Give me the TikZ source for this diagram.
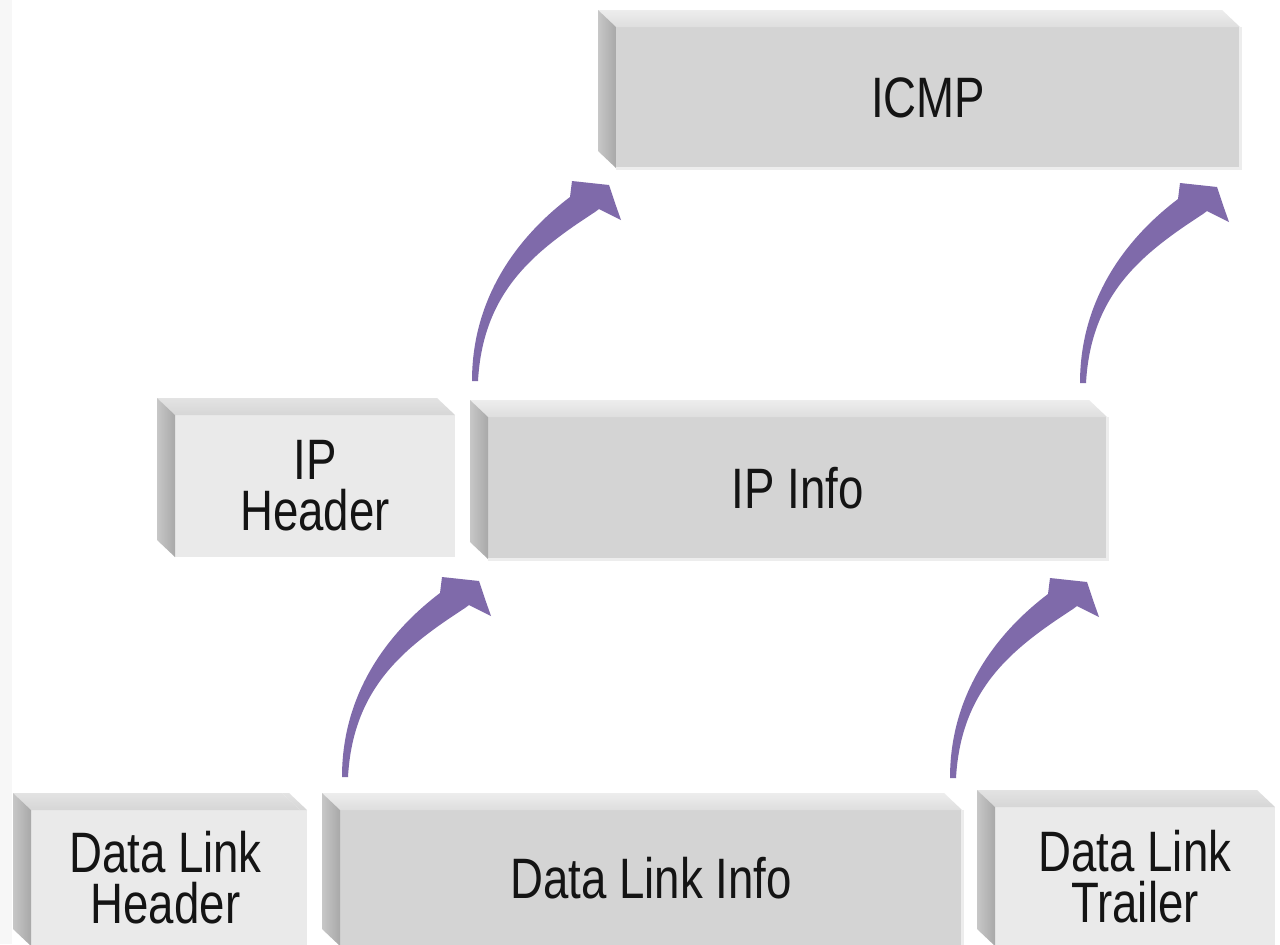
\documentclass[tikz,border=0pt]{standalone}
\usepackage{fontspec}
\setmainfont{Liberation Sans}[FakeStretch=0.8]
\usetikzlibrary{calc}

\definecolor{liftpurple}{RGB}{127,106,170}
\definecolor{frontdark}{HTML}{D4D4D4}
\definecolor{frontlight}{HTML}{EAEAEA}

\tikzset{
  layer text/.style={font=\fontsize{28.5}{25.5}\selectfont, text=black!92,
                     align=center, inner sep=0pt, outer sep=0pt},
  darkfront/.style={fill=frontdark},
  lightfront/.style={fill=frontlight},
  darktop/.style={top color=black!7, bottom color=black!13},
  lighttop/.style={top color=black!11, bottom color=black!16},
  sideface/.style={left color=black!22, right color=black!34},
  darkedge/.style={draw=black!7, line width=1.5pt},
  liftarrow/.pic={
    \fill[liftpurple] (-3,0) .. controls (-3,-90) and (50,-150) .. (95,-184)
      -- (97,-200) -- (134,-196) -- (140,-178) -- (146,-161) -- (124,-172)
      -- (120,-169) .. controls (60,-130) and (8,-90) .. (3,0) -- cycle;
  }
}

% #1 name, #2 back left x, #3 back top y, #4 front right x, #5 front bottom y,
% #6 tone (dark/light), #7 label
\newcommand\layerbox[7]{%
  \node[layer text, #6front,
        minimum width={(#4-#2-18)*0.5pt}, minimum height={(#5-#3-17)*0.5pt}]
        (#1) at ({(#2+18+#4)/2},{(#3+17+#5)/2}) {#7};
  \path[#6top] ($(#1.north west)+(-18,-17)$) -- ($(#1.north east)+(-18,-17)$)
        -- (#1.north east) -- (#1.north west) -- cycle;
  \path[sideface] ($(#1.north west)+(-18,-17)$) -- (#1.north west)
        -- (#1.south west) -- ($(#1.south west)+(-18,-17)$) -- cycle;
}

\begin{document}
\begin{tikzpicture}[x=0.5pt, y=-0.5pt]
  \useasboundingbox (0,0) rectangle (1280,944);
  \clip (0,0) rectangle (1280,944);
  \fill[white] (0,0) rectangle (1280,944);
  \fill[black!3] (0,0) rectangle (12,944);

  % top layer
  \layerbox{icmp}{598}{10}{1240}{168}{dark}{ICMP}
  \draw[darkedge] (icmp.north east) -- (icmp.south east) -- (icmp.south west);

  % middle layer
  \layerbox{iphdr}{157}{398}{455}{557}{light}{IP\\Header}
  \layerbox{ipinfo}{470}{400}{1107}{559}{dark}{IP Info}
  \draw[darkedge] (ipinfo.north east) -- (ipinfo.south east) -- (ipinfo.south west);

  % bottom layer
  \layerbox{dlhdr}{13}{793}{300}{946}{light}{Data Link\\Header}
  \fill[frontlight] (dlhdr.north east) rectangle ($(dlhdr.south east)+(7,0)$);
  \path[lighttop] ($(dlhdr.north east)+(-18,-17)$) -- ($(dlhdr.north east)+(-11,-17)$)
        -- ($(dlhdr.north east)+(7,0)$) -- (dlhdr.north east) -- cycle;
  \layerbox{dlinfo}{322}{793}{962}{946}{dark}{Data Link Info}
  \draw[darkedge] (dlinfo.north east) -- (dlinfo.south east);
  \layerbox{dltrl}{977}{790}{1275}{946}{light}{Data Link\\Trailer}

  % lifting arrows between the layers
  \coordinate (liftA) at (345,777);
  \coordinate (liftB) at (953,778);
  \coordinate (liftC) at (475,381);
  \coordinate (liftD) at (1083,383);
  \pic at (liftA) {liftarrow};
  \pic at (liftB) {liftarrow};
  \pic at (liftC) {liftarrow};
  \pic at (liftD) {liftarrow};
\end{tikzpicture}
\end{document}
